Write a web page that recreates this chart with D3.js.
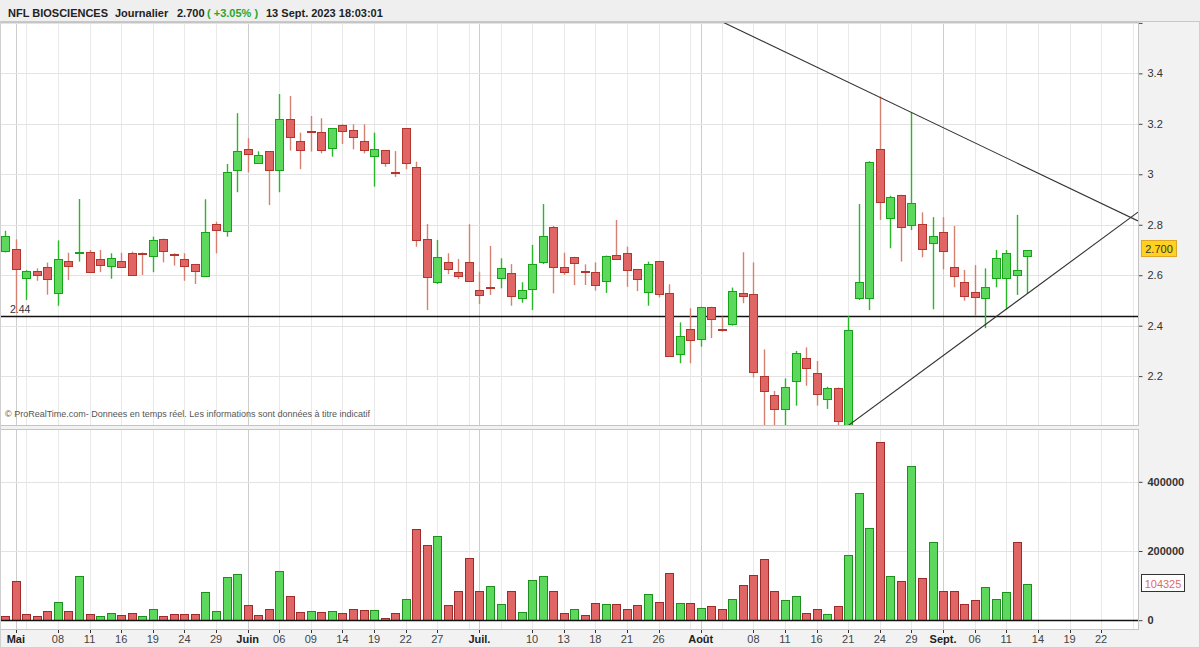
<!DOCTYPE html>
<html>
<head>
<meta charset="utf-8">
<script src="https://cdn.jsdelivr.net/npm/d3@7"></script>
<style>
body { margin: 0; background: #fff; font-family: "Liberation Sans", Arial, sans-serif; }
#chart { width: 1200px; height: 648px; }
</style>
</head>
<body>
<div id="chart"></div>
<script>

// ---- data (NFL BIOSCIENCES, 28 Apr -> 13 Sept 2023) ----

var holidays = ["2023-05-01"];
var firstDay = "2023-04-28", lastAxisDay = "2023-09-27";

var opens  = [2.697,2.703,2.588,2.617,2.631,2.528,2.656,2.688,2.692,2.663,2.637,2.656,2.688,2.689,2.677,2.742,2.686,2.663,2.643,2.597,
              2.803,2.776,3.017,3.099,3.046,3.092,3.017,3.219,3.132,3.170,3.168,3.105,3.194,3.174,3.132,3.071,3.095,3.009,3.182,3.028,
              2.742,2.573,2.652,2.613,2.652,2.541,2.555,2.588,2.608,2.509,2.544,2.651,2.792,2.631,2.671,2.617,2.613,2.577,2.681,2.688,
              2.623,2.534,2.655,2.528,2.287,2.388,2.348,2.473,2.386,2.407,2.531,2.524,2.202,2.124,2.070,2.182,2.273,2.214,2.108,2.152,
              2.000,2.509,2.509,3.099,2.826,2.917,2.799,2.803,2.727,2.770,2.631,2.574,2.532,2.509,2.588,2.588,2.602,2.677];
var highs  = [2.776,2.742,2.620,2.627,2.650,2.738,2.689,2.902,2.700,2.700,2.687,2.689,2.693,2.690,2.753,2.745,2.687,2.687,2.645,2.901,
              2.812,3.041,3.242,3.143,3.091,3.092,3.318,3.310,3.165,3.231,3.222,3.182,3.198,3.198,3.198,3.165,3.095,3.092,3.182,3.050,
              2.803,2.740,2.687,2.664,2.802,2.614,2.716,2.667,2.644,2.572,2.720,2.882,2.795,2.689,2.673,2.643,2.651,2.678,2.819,2.713,
              2.625,2.654,2.657,2.564,2.413,2.469,2.475,2.475,2.436,2.551,2.691,2.651,2.306,2.141,2.191,2.300,2.314,2.260,2.158,2.155,
              2.438,2.882,3.052,3.308,2.915,2.919,3.246,2.849,2.830,2.830,2.795,2.621,2.640,2.627,2.700,2.700,2.839,2.700];
var lows   = [2.690,2.451,2.502,2.578,2.523,2.479,2.581,2.654,2.610,2.612,2.586,2.630,2.600,2.601,2.612,2.651,2.638,2.578,2.565,2.597,
              2.687,2.753,2.929,3.008,3.046,2.878,2.929,3.094,3.020,3.090,3.083,3.070,3.120,3.099,3.083,2.951,3.030,2.990,3.020,2.713,
              2.462,2.565,2.604,2.585,2.575,2.486,2.522,2.548,2.479,2.491,2.462,2.644,2.528,2.601,2.561,2.561,2.539,2.530,2.663,2.554,
              2.537,2.479,2.512,2.278,2.251,2.251,2.317,2.351,2.376,2.400,2.489,2.195,1.990,1.990,1.990,2.083,2.162,2.083,2.070,1.990,
              1.970,2.502,2.462,2.819,2.707,2.654,2.779,2.671,2.465,2.623,2.552,2.499,2.438,2.390,2.552,2.465,2.522,2.526];
var closes = [2.757,2.626,2.617,2.602,2.584,2.663,2.635,2.692,2.612,2.641,2.667,2.634,2.601,2.684,2.738,2.697,2.679,2.638,2.618,2.770,
              2.779,3.009,3.092,3.082,3.078,3.017,3.219,3.147,3.095,3.166,3.095,3.182,3.170,3.147,3.095,3.099,3.046,3.005,3.046,2.741,
              2.594,2.671,2.626,2.598,2.576,2.520,2.551,2.627,2.519,2.541,2.643,2.754,2.634,2.612,2.648,2.613,2.560,2.676,2.665,2.622,
              2.584,2.645,2.524,2.280,2.359,2.344,2.473,2.425,2.382,2.539,2.519,2.218,2.141,2.069,2.158,2.292,2.233,2.130,2.152,2.021,
              2.383,2.574,3.050,2.891,2.911,2.790,2.885,2.703,2.757,2.697,2.598,2.519,2.512,2.552,2.667,2.687,2.620,2.700];
var volumes = [12400,112600,18300,12400,28000,52000,26000,127000,18300,10700,20000,16400,21000,12400,33700,12400,18000,18000,18000,82800,
               28000,124000,134700,44000,16400,33700,143400,70000,23000,26000,23000,26000,21000,31700,29000,29000,5500,21000,62600,262600,
               216000,242000,43000,85700,179000,85700,99000,47000,85700,23000,117000,128000,85700,21000,33700,15400,51000,47000,47000,31000,
               44000,77000,54000,137600,51000,51000,35500,41000,33700,62600,101000,132000,176000,85000,59700,70000,20000,33700,18000,41000,
               189600,368500,267500,515700,127000,113000,447000,122000,226000,85700,85700,48000,57000,96000,61600,82800,225000,104325];
var prevClose = 2.78;

var priceTicks  = [2.2, 2.4, 2.6, 2.8, 3.0, 3.2, 3.4, 3.6];
var volumeTicks = [0, 200000, 400000];

var tickDates  = ["2023-05-02","2023-05-08","2023-05-11","2023-05-16","2023-05-19","2023-05-24","2023-05-29",
                  "2023-06-01","2023-06-06","2023-06-09","2023-06-14","2023-06-19","2023-06-22","2023-06-27",
                  "2023-07-03","2023-07-10","2023-07-13","2023-07-18","2023-07-21","2023-07-26",
                  "2023-08-01","2023-08-08","2023-08-11","2023-08-16","2023-08-21","2023-08-24","2023-08-29",
                  "2023-09-01","2023-09-06","2023-09-11","2023-09-14","2023-09-19","2023-09-22"];
var tickLabels = ["Mai","08","11","16","19","24","29",
                  "Juin","06","09","14","19","22","27",
                  "Juil.","10","13","18","21","26",
                  "Août","08","11","16","21","24","29",
                  "Sept.","06","11","14","19","22"];

var supportLevel = 2.44;
var upperTrend = [["2023-08-24", 3.305], ["2023-08-29", 3.245]];
var lowerTrend = [["2023-09-07", 2.404], ["2023-09-13", 2.527]];

var headerName = "NFL BIOSCIENCES", headerPeriod = "Journalier", headerLast = "2.700",
    headerChange = "( +3.05% )", headerStamp = "13 Sept. 2023 18:03:01";
var copyright = "\u00a9 ProRealTime.com- Donnees en temps r\u00e9el. Les informations sont donn\u00e9es \u00e0 titre indicatif";


/*
 * CandleChart - Object constructor function
 * @param _parentElement 	-- the HTML element in which to draw the chart
 */

CandleChart = function(_parentElement){
	this.parentElement = _parentElement;
	this.initVis();
}

CandleChart.prototype.initVis = function(){
	var vis = this;

	vis.width = 1200;
	vis.height = 648;
	vis.plotW = 1138;
	vis.priceTop = 22; vis.priceBottom = 425;
	vis.volTop = 429; vis.volBottom = 629;

	vis.upFill = "#5cd95c"; vis.upLine = "#17a317"; vis.upWick = "#27b827";
	vis.dnFill = "#e06666"; vis.dnLine = "#b3362e"; vis.dnWick = "#d58070";

	// trading days on the axis
	var parse = d3.timeParse("%Y-%m-%d"), fmt = d3.timeFormat("%Y-%m-%d");
	vis.days = d3.timeDay.range(parse(firstDay), d3.timeDay.offset(parse(lastAxisDay), 1))
		.filter(function(d) { return d.getDay() != 0 && d.getDay() != 6 && holidays.indexOf(fmt(d)) < 0; })
		.map(fmt);

	vis.candles = closes.map(function(c, i) {
		return { date: vis.days[i], o: opens[i], h: highs[i], l: lows[i], c: c, v: volumes[i],
		         prev: i ? closes[i-1] : prevClose };
	});

	vis.svg = d3.select("#" + vis.parentElement).append("svg")
		.attr("width", vis.width)
		.attr("height", vis.height)
		.style("font-family", "'Liberation Sans', Arial, sans-serif");

	// scales
	vis.x = d3.scaleBand().domain(vis.days).range([0, vis.plotW]).paddingInner(0.3).paddingOuter(0.15);
	vis.cx = function(d) { return vis.x(d) + vis.x.bandwidth() / 2; };
	vis.y = d3.scaleLinear().domain([2.0, 3.6]).range([426.6, 22.9]);
	vis.yVol = d3.scaleLinear().domain([0, 400000]).range([620.2, 481.8]);

	// backgrounds
	vis.svg.append("rect").attr("width", vis.width).attr("height", vis.height).attr("fill", "#f2f2f2");
	vis.svg.append("rect").attr("x", 0).attr("y", vis.priceTop).attr("width", vis.plotW).attr("height", vis.priceBottom - vis.priceTop).attr("fill", "#fff");
	vis.svg.append("rect").attr("x", 0).attr("y", vis.volTop).attr("width", vis.plotW).attr("height", vis.volBottom - vis.volTop).attr("fill", "#fff");

	var defs = vis.svg.append("defs");
	defs.append("clipPath").attr("id", "clipPrice").append("rect")
		.attr("x", 0).attr("y", vis.priceTop).attr("width", vis.plotW).attr("height", vis.priceBottom - vis.priceTop);
	defs.append("clipPath").attr("id", "clipVol").append("rect")
		.attr("x", 0).attr("y", vis.volTop).attr("width", vis.plotW).attr("height", vis.volBottom - vis.volTop);

	vis.drawGrid();
	vis.drawPrice();
	vis.drawVolume();
	vis.drawAxes();
	vis.drawFrame();
	vis.drawHeader();
}

/*
 * vertical grid (every 3rd session + month starts) and horizontal grid
 */
CandleChart.prototype.drawGrid = function(){
	var vis = this;

	var monthStarts = vis.days.filter(function(d, i) {
		return i == 0 ? false : d.slice(5, 7) != vis.days[i-1].slice(5, 7);
	});
	var minor = vis.days.filter(function(d, i) { return i % 3 == 2 && monthStarts.indexOf(d) < 0; });

	[[vis.priceTop, vis.priceBottom], [vis.volTop, vis.volBottom]].forEach(function(p) {
		vis.svg.append("g").selectAll("line").data(minor).enter().append("line")
			.attr("x1", function(d) { return Math.round(vis.cx(d)) + 0.5; })
			.attr("x2", function(d) { return Math.round(vis.cx(d)) + 0.5; })
			.attr("y1", p[0]).attr("y2", p[1])
			.attr("stroke", "#e9e9e9");
		vis.svg.append("g").selectAll("line").data(monthStarts).enter().append("line")
			.attr("x1", function(d) { return Math.round(vis.cx(d)) + 0.5; })
			.attr("x2", function(d) { return Math.round(vis.cx(d)) + 0.5; })
			.attr("y1", p[0]).attr("y2", p[1])
			.attr("stroke", "#cdcdcd");
	});

	vis.svg.append("g").selectAll("line").data(priceTicks).enter().append("line")
		.attr("x1", 0).attr("x2", vis.plotW)
		.attr("y1", function(d) { return Math.round(vis.y(d)) + 0.5; })
		.attr("y2", function(d) { return Math.round(vis.y(d)) + 0.5; })
		.attr("stroke", "#e3e3e3");

	vis.svg.append("g").selectAll("line").data(volumeTicks.slice(1)).enter().append("line")
		.attr("x1", 0).attr("x2", vis.plotW)
		.attr("y1", function(d) { return Math.round(vis.yVol(d)) + 0.5; })
		.attr("y2", function(d) { return Math.round(vis.yVol(d)) + 0.5; })
		.attr("stroke", "#e3e3e3");
}

/*
 * candles, support line, trendlines
 */
CandleChart.prototype.drawPrice = function(){
	var vis = this;
	var g = vis.svg.append("g").attr("clip-path", "url(#clipPrice)");

	var up = function(d) { return d.c >= d.o; };

	// support 2.44
	var ys = Math.round(vis.y(supportLevel)) + 0.5;
	g.append("line").attr("x1", 0).attr("x2", vis.plotW).attr("y1", ys).attr("y2", ys)
		.attr("stroke", "#111").attr("stroke-width", 1.3);
	g.append("text").attr("x", 10).attr("y", ys - 4)
		.attr("font-size", 10.5).attr("fill", "#333")
		.text(d3.format(".2f")(supportLevel));

	g.selectAll(".wick").data(vis.candles).enter().append("line")
		.attr("class", "wick")
		.attr("x1", function(d) { return Math.round(vis.cx(d.date)) + 0.5; })
		.attr("x2", function(d) { return Math.round(vis.cx(d.date)) + 0.5; })
		.attr("y1", function(d) { return vis.y(d.h); })
		.attr("y2", function(d) { return vis.y(d.l); })
		.attr("stroke", function(d) { return up(d) ? vis.upWick : vis.dnWick; })
		.attr("stroke-width", 1.4);

	g.selectAll(".body").data(vis.candles).enter().append("rect")
		.attr("class", "body")
		.attr("x", function(d) { return Math.round(vis.cx(d.date)) - 3.5; })
		.attr("width", 8)
		.attr("y", function(d) { return Math.round(vis.y(Math.max(d.o, d.c))) + 0.5; })
		.attr("height", function(d) {
			return Math.max(1, Math.round(vis.y(Math.min(d.o, d.c))) - Math.round(vis.y(Math.max(d.o, d.c))));
		})
		.attr("fill", function(d) { return up(d) ? vis.upFill : vis.dnFill; })
		.attr("stroke", function(d) { return up(d) ? vis.upLine : vis.dnLine; })
		.attr("stroke-width", 1);

	// trendlines, extended across the panel
	[upperTrend, lowerTrend].forEach(function(t) {
		var x1 = vis.cx(t[0][0]), y1 = vis.y(t[0][1]);
		var x2 = vis.cx(t[1][0]), y2 = vis.y(t[1][1]);
		var k = (y2 - y1) / (x2 - x1);
		g.append("line")
			.attr("x1", 0).attr("y1", y1 - k * x1)
			.attr("x2", vis.plotW).attr("y2", y1 + k * (vis.plotW - x1))
			.attr("stroke", "#333").attr("stroke-width", 1.1);
	});

	g.append("text").attr("x", 5).attr("y", 417)
		.attr("font-size", 9).attr("fill", "#555")
		.text(copyright);
}

/*
 * volume bars, coloured on close vs previous close
 */
CandleChart.prototype.drawVolume = function(){
	var vis = this;
	var g = vis.svg.append("g").attr("clip-path", "url(#clipVol)");

	g.selectAll(".vol").data(vis.candles).enter().append("rect")
		.attr("class", "vol")
		.attr("x", function(d) { return Math.round(vis.cx(d.date)) - 3.5; })
		.attr("width", 8)
		.attr("y", function(d) { return Math.round(vis.yVol(d.v)) + 0.5; })
		.attr("height", function(d) { return Math.round(vis.yVol(0)) - Math.round(vis.yVol(d.v)); })
		.attr("fill", function(d) { return d.c >= d.prev ? vis.upFill : vis.dnFill; })
		.attr("stroke", function(d) { return d.c >= d.prev ? "#1e8f1e" : "#9e2b2b"; })
		.attr("stroke-width", 1);

	var y0 = Math.round(vis.yVol(0)) + 0.5;
	g.append("line").attr("x1", 0).attr("x2", vis.plotW).attr("y1", y0).attr("y2", y0)
		.attr("stroke", "#111").attr("stroke-width", 1.3);
}

/*
 * right price / volume axes, bottom date axis, last value boxes
 */
CandleChart.prototype.drawAxes = function(){
	var vis = this;

	var pAxis = d3.axisRight(vis.y).tickValues(priceTicks).tickSize(4).tickPadding(5)
		.tickFormat(function(d) { return d >= 3.6 ? "" : d3.format("~g")(d); });
	var pg = vis.svg.append("g").attr("transform", "translate(" + (vis.plotW + 0.5) + ",0)").call(pAxis);
	pg.select(".domain").remove();
	pg.selectAll(".tick line").attr("stroke", "#444");
	pg.selectAll(".tick text").attr("font-size", 11).attr("fill", "#333").attr("font-family", null);

	var vAxis = d3.axisRight(vis.yVol).tickValues(volumeTicks).tickSize(4).tickPadding(5)
		.tickFormat(d3.format("d"));
	var vg = vis.svg.append("g").attr("transform", "translate(" + (vis.plotW + 0.5) + ",0)").call(vAxis);
	vg.select(".domain").remove();
	vg.selectAll(".tick line").attr("stroke", "#444");
	vg.selectAll(".tick text").attr("font-size", 11).attr("font-weight", "bold").attr("fill", "#333").attr("font-family", null);

	// date axis
	var xg = vis.svg.append("g");
	xg.selectAll("line").data(tickDates).enter().append("line")
		.attr("x1", function(d) { return Math.round(vis.cx(d)) + 0.5; })
		.attr("x2", function(d) { return Math.round(vis.cx(d)) + 0.5; })
		.attr("y1", vis.volBottom).attr("y2", vis.volBottom + 4)
		.attr("stroke", "#333");
	xg.selectAll("text").data(tickDates).enter().append("text")
		.attr("x", function(d) { return vis.cx(d); })
		.attr("y", 643)
		.attr("text-anchor", "middle")
		.attr("font-size", 11)
		.attr("font-weight", function(d, i) { return /^[0-9]/.test(tickLabels[i]) ? "normal" : "bold"; })
		.attr("fill", function(d, i) { return /^[0-9]/.test(tickLabels[i]) ? "#444" : "#222"; })
		.text(function(d, i) { return tickLabels[i]; });

	// last price box
	var last = vis.candles[vis.candles.length - 1];
	var yl = vis.y(last.c);
	vis.svg.append("rect").attr("x", 1141.5).attr("y", Math.round(yl) - 9.5).attr("width", 35).attr("height", 16)
		.attr("fill", "#ffd21f").attr("stroke", "#e0a526");
	vis.svg.append("text").attr("x", 1159).attr("y", Math.round(yl) + 3).attr("text-anchor", "middle")
		.attr("font-size", 11).attr("fill", "#333").text(d3.format(".3f")(last.c));

	// last volume box
	var yv = vis.yVol(last.v);
	vis.svg.append("rect").attr("x", 1141.5).attr("y", Math.round(yv) - 9.5).attr("width", 43).attr("height", 17)
		.attr("fill", "#fff").attr("stroke", "#333");
	vis.svg.append("text").attr("x", 1163).attr("y", Math.round(yv) + 3.5).attr("text-anchor", "middle")
		.attr("font-size", 11).attr("fill", "#e06a6a").text(last.v);
}

/*
 * panel borders
 */
CandleChart.prototype.drawFrame = function(){
	var vis = this;
	var b = "#c4c4c4";
	vis.svg.append("rect").attr("x", 0.5).attr("y", vis.priceTop + 0.5).attr("width", vis.plotW).attr("height", vis.priceBottom - vis.priceTop)
		.attr("fill", "none").attr("stroke", b);
	vis.svg.append("rect").attr("x", 0.5).attr("y", vis.volTop + 0.5).attr("width", vis.plotW).attr("height", vis.volBottom - vis.volTop)
		.attr("fill", "none").attr("stroke", b);
	vis.svg.append("rect").attr("x", 0.5).attr("y", 0.5).attr("width", vis.width - 1).attr("height", vis.height - 1)
		.attr("fill", "none").attr("stroke", "#d0d0d0");
}

/*
 * title bar
 */
CandleChart.prototype.drawHeader = function(){
	var vis = this;
	vis.svg.append("rect").attr("x", 0).attr("y", 0).attr("width", vis.width).attr("height", vis.priceTop)
		.attr("fill", "#efefef");
	vis.svg.append("line").attr("x1", 0).attr("x2", vis.width).attr("y1", vis.priceTop - 0.5).attr("y2", vis.priceTop - 0.5)
		.attr("stroke", "#c8c8c8");

	var t = vis.svg.append("text").attr("x", 8).attr("y", 17).attr("font-size", 11).attr("font-weight", "bold").attr("fill", "#222");
	t.append("tspan").text(headerName);
	t.append("tspan").attr("x", 115).text(headerPeriod);
	t.append("tspan").attr("x", 177).text(headerLast);
	t.append("tspan").attr("x", 207).attr("fill", "#2aa52a").text(headerChange);
	t.append("tspan").attr("x", 266).text(headerStamp);
}

var chart = new CandleChart("chart");

</script>
</body>
</html>
